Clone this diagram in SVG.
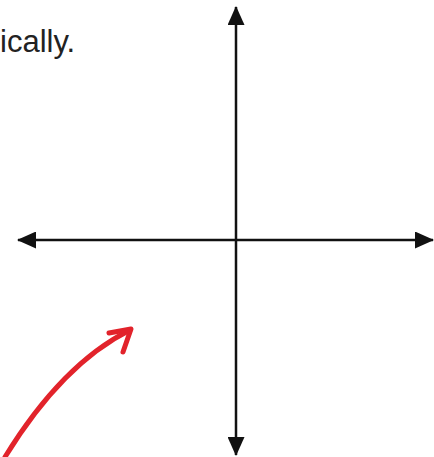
<svg xmlns="http://www.w3.org/2000/svg" width="434" height="457" viewBox="0 0 434 457">
<style>
.axis{stroke:#111;stroke-width:2.5;fill:none}
.red{stroke:#e2232b;stroke-width:5;fill:none;stroke-linecap:round;stroke-linejoin:round}
.lbl{font-family:"Liberation Sans",Arial,sans-serif;font-size:31px;fill:#222}
</style>
<defs>
<marker id="ah" markerUnits="userSpaceOnUse" markerWidth="19" markerHeight="17" refX="18" refY="8.5" orient="auto-start-reverse" viewBox="0 0 19 17">
<path d="M0,0 L19,8.5 L0,17 z" fill="#111"/>
</marker>
</defs>
<rect width="434" height="457" fill="#fff"/>
<g id="caption"><text class="lbl" x="0" y="52">ically.</text></g>
<g id="connectors">
<line class="axis" x1="18" y1="240" x2="433" y2="240" marker-start="url(#ah)" marker-end="url(#ah)"/>
<line class="axis" x1="236" y1="7" x2="236" y2="455" marker-start="url(#ah)" marker-end="url(#ah)"/>
<path class="red" d="M5 457 C40 400,80 355,130 330"/>
<polyline class="red" points="109,333 131,329 123,352"/>
</g>
</svg>
